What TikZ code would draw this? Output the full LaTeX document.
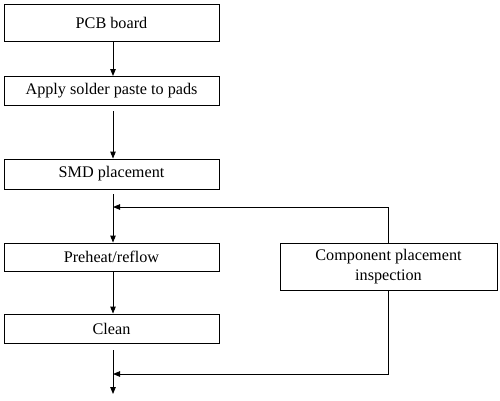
\documentclass[tikz,border=0pt]{standalone}
\usepackage{fontspec}
\setmainfont{Liberation Serif}
\usetikzlibrary{arrows.meta}
\begin{document}
\begin{tikzpicture}[x=1pt,y=-1pt,
  box/.style={draw, line width=0.9pt, fill=white, minimum width=215pt, inner sep=0pt, align=center, font=\fontsize{16.2}{20}\selectfont},
  arr/.style={line width=0.9pt, -{Triangle[length=7pt,width=5.5pt]}}]
\useasboundingbox (0,0) rectangle (500,400);
\node[box, minimum height=37pt] (pcb) at (111.5,22.5) {PCB board};
\node[box, minimum height=29pt] (paste) at (111.5,90.5) {Apply solder paste to pads};
\node[box, minimum height=30pt] (smd) at (111.5,174) {SMD placement};
\node[box, minimum height=28pt] (pre) at (111.5,257) {Preheat/reflow};
\node[box, minimum height=29pt] (clean) at (111.5,328.5) {Clean};
\coordinate (ft) at (113,207);
\coordinate (fb) at (113,374);
\coordinate (out) at (113,394);
% right feedback line (behind the inspection box)
\draw[arr] (388,290) |- (fb);
\draw[arr] (388,243) |- (ft);
\node[box, minimum width=217pt, minimum height=47pt] (comp) at (388.5,266.5) {Component placement\\inspection};
\draw[arr] (113,41) -- (113,76);
\draw[arr] ([yshift=-6pt]paste.south -| ft) -- (smd.north -| ft);
\draw[arr] ([yshift=-5pt]smd.south -| ft) -- (pre.north -| ft);
\draw[arr] (pre.south -| ft) -- (clean.north -| ft);
\draw[arr] ([yshift=-7pt]clean.south -| ft) -- (out);
\end{tikzpicture}
\end{document}
